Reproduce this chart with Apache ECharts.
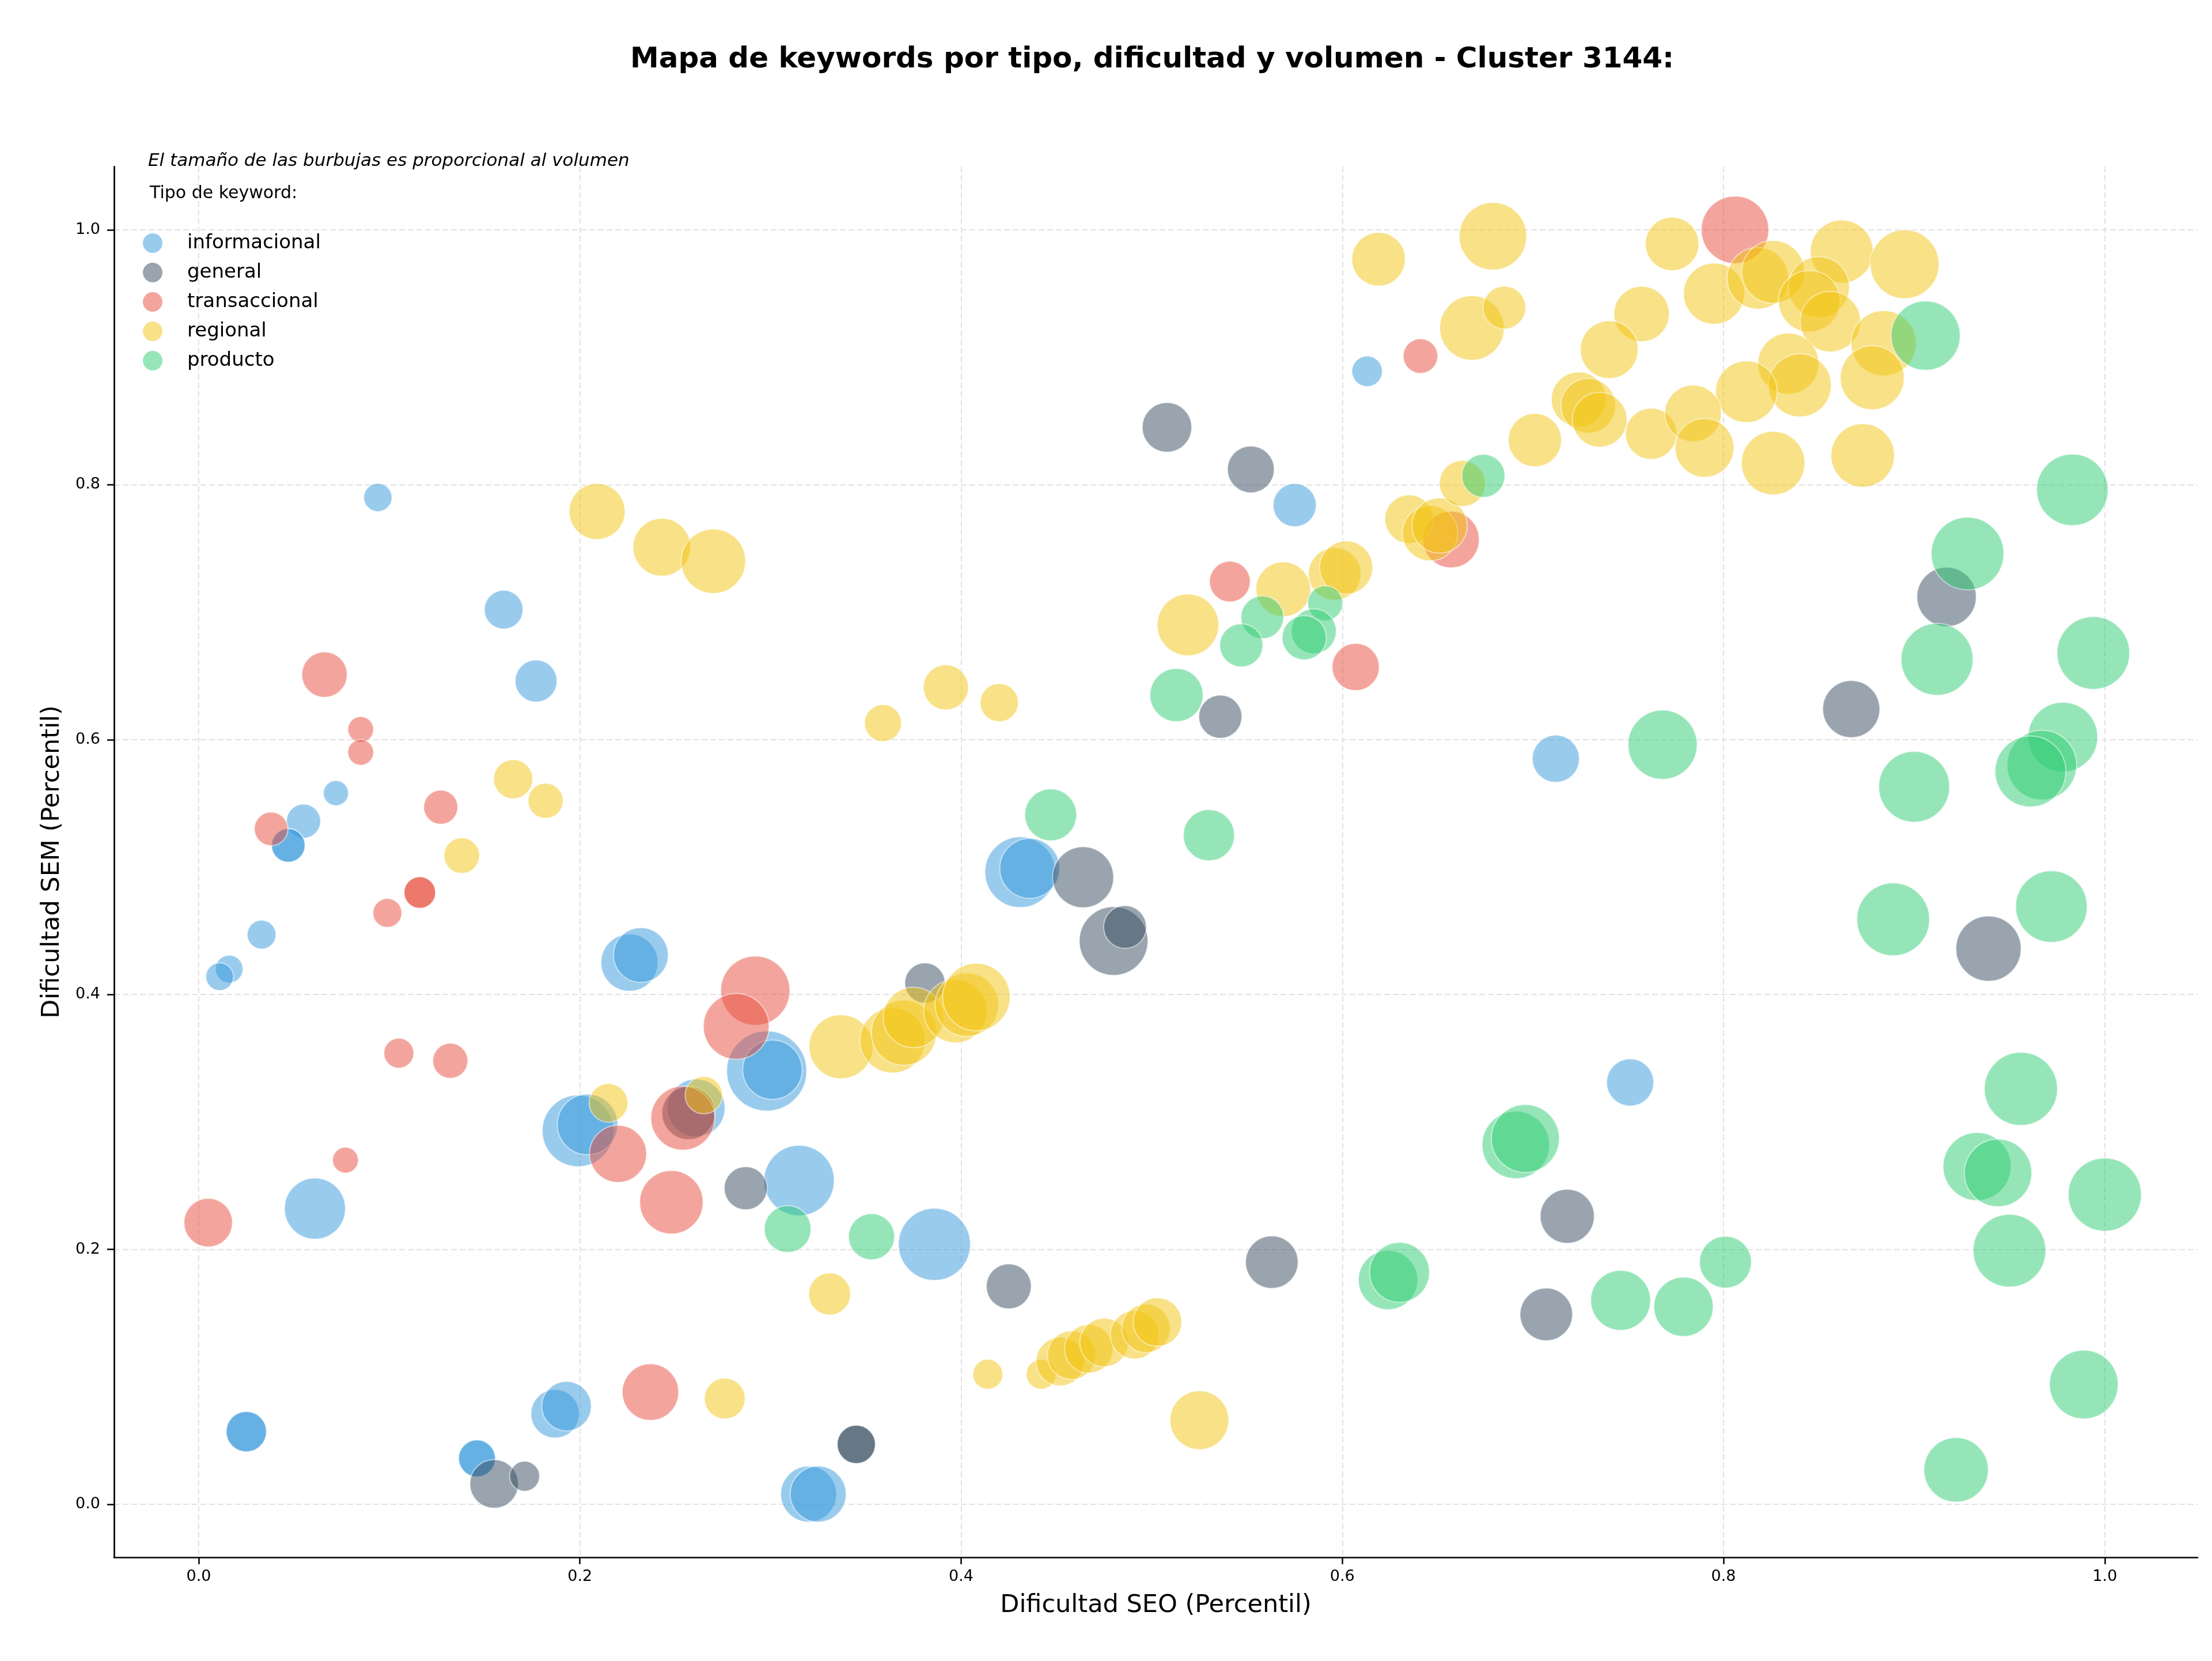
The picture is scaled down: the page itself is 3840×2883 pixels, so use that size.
<!DOCTYPE html>
<html>
<head>
<meta charset="utf-8">
<script src="https://cdn.jsdelivr.net/npm/echarts@6/dist/echarts.min.js"></script>
<style>
html,body{margin:0;padding:0;background:#fff;}
#chart{width:3840px;height:2883px;}
</style>
</head>
<body>
<div id="chart"></div>
<script>
// ---- data: [dificultad SEO, dificultad SEM, volumen relativo] ----
const categories = ['informacional', 'general', 'transaccional', 'regional', 'producto'];
const xTicks = [0, 0.2, 0.4, 0.6, 0.8, 1.0];
const yTicks = [0, 0.2, 0.4, 0.6, 0.8, 1.0];

const informacional = [
  [0.094,0.790,24],[0.160,0.702,45],[0.177,0.646,53],[0.072,0.558,19],[0.055,0.536,35],
  [0.047,0.517,34],[0.047,0.517,34],[0.033,0.447,25],[0.016,0.420,23],[0.011,0.414,23],
  [0.061,0.232,112],[0.199,0.293,154],[0.204,0.298,110],[0.226,0.425,98],[0.232,0.431,90],
  [0.261,0.311,100],[0.298,0.340,193],[0.301,0.341,106],[0.315,0.254,149],[0.386,0.204,156],
  [0.431,0.496,150],[0.436,0.499,108],[0.320,0.008,94],[0.325,0.008,94],[0.187,0.071,71],
  [0.193,0.077,74],[0.025,0.057,49],[0.025,0.057,49],[0.146,0.036,41],[0.146,0.036,41],
  [0.575,0.784,56],[0.613,0.889,28],[0.712,0.585,67],[0.751,0.331,67]
];
const general = [
  [0.508,0.845,74],[0.552,0.812,66],[0.536,0.618,56],[0.917,0.712,106],[0.867,0.624,98],
  [0.464,0.492,112],[0.480,0.442,142],[0.486,0.453,55],[0.381,0.409,49],[0.939,0.436,128],
  [0.287,0.248,56],[0.257,0.307,85],[0.425,0.171,61],[0.563,0.190,83],[0.718,0.226,88],
  [0.707,0.149,83],[0.345,0.047,44],[0.345,0.047,44],[0.155,0.016,71],[0.171,0.022,27]
];
const transaccional = [
  [0.066,0.651,62],[0.085,0.608,20],[0.085,0.590,20],[0.038,0.530,34],[0.127,0.547,35],
  [0.099,0.464,25],[0.116,0.480,30],[0.116,0.480,30],[0.105,0.354,27],[0.132,0.348,37],
  [0.077,0.270,20],[0.005,0.221,71],[0.220,0.275,98],[0.254,0.303,123],[0.292,0.403,144],
  [0.282,0.375,130],[0.248,0.237,121],[0.237,0.088,96],[0.541,0.724,50],[0.607,0.657,67],
  [0.641,0.901,36],[0.657,0.757,96],[0.806,1.000,137]
];
const regional = [
  [0.209,0.779,94],[0.243,0.751,100],[0.270,0.740,125],[0.165,0.569,46],[0.182,0.552,37],
  [0.138,0.509,38],[0.215,0.315,45],[0.265,0.321,42],[0.359,0.613,41],[0.392,0.641,61],
  [0.420,0.629,44],[0.331,0.165,53],[0.276,0.083,50],[0.337,0.359,123],[0.364,0.364,128],
  [0.370,0.370,128],[0.375,0.382,110],[0.397,0.387,121],[0.403,0.392,121],[0.408,0.398,137],
  [0.414,0.102,27],[0.442,0.102,27],[0.452,0.112,71],[0.458,0.117,71],[0.467,0.122,71],
  [0.475,0.127,71],[0.491,0.133,71],[0.497,0.138,71],[0.503,0.143,71],[0.525,0.066,104],
  [0.519,0.690,114],[0.569,0.718,90],[0.596,0.730,83],[0.602,0.735,85],[0.635,0.773,71],
  [0.646,0.762,92],[0.651,0.768,92],[0.663,0.801,64],[0.619,0.977,86],[0.679,0.995,137],
  [0.668,0.923,125],[0.685,0.939,55],[0.701,0.835,85],[0.757,0.934,92],[0.740,0.906,100],
  [0.724,0.867,90],[0.729,0.862,90],[0.735,0.851,90],[0.762,0.840,79],[0.773,0.989,86],
  [0.795,0.950,112],[0.818,0.962,114],[0.826,0.967,119],[0.862,0.983,119],[0.895,0.973,142],
  [0.850,0.955,112],[0.845,0.944,114],[0.856,0.928,110],[0.884,0.911,128],[0.878,0.884,123],
  [0.834,0.895,112],[0.840,0.878,119],[0.812,0.873,114],[0.784,0.856,96],[0.790,0.829,104],
  [0.826,0.817,121],[0.873,0.823,121]
];
const producto = [
  [0.447,0.541,81],[0.309,0.216,66],[0.353,0.210,64],[0.530,0.525,79],[0.513,0.635,85],
  [0.558,0.696,55],[0.547,0.674,56],[0.591,0.707,37],[0.585,0.685,61],[0.580,0.680,59],
  [0.674,0.807,56],[0.768,0.596,144],[0.906,0.917,144],[0.983,0.796,154],[0.928,0.746,159],
  [0.912,0.663,156],[0.994,0.668,159],[0.978,0.602,146],[0.967,0.580,146],[0.961,0.575,151],
  [0.900,0.563,151],[0.889,0.459,159],[0.972,0.469,154],[0.956,0.326,161],[0.933,0.265,139],
  [0.944,0.260,137],[1.000,0.243,161],[0.950,0.199,159],[0.801,0.190,81],[0.779,0.155,106],
  [0.989,0.094,142],[0.922,0.027,125],[0.624,0.176,106],[0.630,0.182,108],[0.691,0.282,137],
  [0.696,0.287,139],[0.746,0.160,108]
];

const seriesData = [informacional, general, transaccional, regional, producto];
const colors = ['#3498db', '#34495e', '#e74c3c', '#f1c40f', '#2ecc71'];
const FONT = 'DejaVu Sans';

const chart = echarts.init(document.getElementById('chart'), null, {renderer: 'canvas'});

const series = categories.map((name, i) => ({
  name: name,
  type: 'scatter',
  data: seriesData[i],
  symbol: 'circle',
  symbolSize: v => Math.sqrt(v[2]) * 10,
  itemStyle: {color: colors[i], opacity: 0.5, borderColor: '#ffffff', borderWidth: 2},
  emphasis: {disabled: true},
  z: 2 + i
}));

const option = {
  animation: false,
  backgroundColor: '#ffffff',
  textStyle: {fontFamily: FONT},
  grid: {left: 198, right: 25, top: 289, bottom: 180, containLabel: false},
  graphic: [
    {type: 'text', x: 2000, y: 104, style: {text: 'Mapa de keywords por tipo, dificultad y volumen - Cluster 3144:', fontSize: 50, fontWeight: 'bold', fontFamily: FONT, fill: '#000', align: 'center', verticalAlign: 'middle'}},
    {type: 'text', x: 257, y: 280, style: {text: 'El tamaño de las burbujas es proporcional al volumen', fontSize: 31, fontStyle: 'italic', fontFamily: FONT, fill: '#000', align: 'left', verticalAlign: 'middle'}},
    {type: 'text', x: 260, y: 336, style: {text: 'Tipo de keyword:', fontSize: 30, fontFamily: FONT, fill: '#000', align: 'left', verticalAlign: 'middle'}}
  ],
  legend: {
    orient: 'vertical',
    left: 243,
    top: 400,
    icon: 'circle',
    itemWidth: 34,
    itemHeight: 34,
    itemGap: 17,
    itemStyle: {opacity: 0.5, borderWidth: 0},
    textStyle: {fontSize: 34, color: '#000', fontFamily: FONT, padding: [0, 0, 0, 38]},
    data: categories
  },
  xAxis: {
    type: 'value',
    min: -0.0444,
    max: 1.0487,
    name: 'Dificultad SEO (Percentil)',
    nameLocation: 'middle',
    nameGap: 62,
    nameTextStyle: {fontSize: 43, color: '#000', fontFamily: FONT},
    axisLine: {show: true, onZero: false, lineStyle: {color: '#000', width: 2.7}},
    axisTick: {show: true, length: 12, customValues: xTicks, lineStyle: {color: '#000', width: 2.5}},
    axisLabel: {customValues: xTicks, formatter: v => v.toFixed(1), fontSize: 27, color: '#000', margin: 20, fontFamily: FONT},
    splitLine: {show: true, lineStyle: {color: '#e2e2e2', width: 2, type: [10, 5]}}
  },
  yAxis: {
    type: 'value',
    min: -0.0416,
    max: 1.0497,
    name: 'Dificultad SEM (Percentil)',
    nameLocation: 'middle',
    nameGap: 86,
    nameTextStyle: {fontSize: 43, color: '#000', fontFamily: FONT},
    axisLine: {show: true, onZero: false, lineStyle: {color: '#000', width: 2.7}},
    axisTick: {show: true, length: 12, customValues: yTicks, lineStyle: {color: '#000', width: 2.5}},
    axisLabel: {customValues: yTicks, formatter: v => v.toFixed(1), fontSize: 27, color: '#000', margin: 24, fontFamily: FONT},
    splitLine: {show: true, lineStyle: {color: '#e2e2e2', width: 2, type: [10, 5]}}
  },
  series: series
};

chart.setOption(option);
</script>
</body>
</html>
